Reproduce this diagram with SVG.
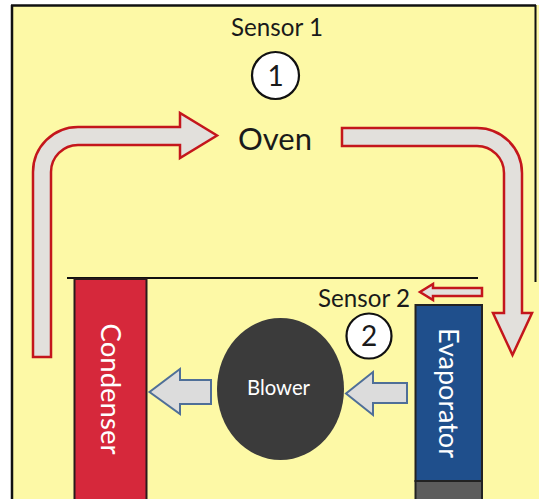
<svg xmlns="http://www.w3.org/2000/svg" width="539" height="499" viewBox="0 0 539 499">
  <style>
    .lbl { font-family: Lato, "Liberation Sans", sans-serif; fill: #1a1a1a; }
    .wlbl { font-family: Lato, "Liberation Sans", sans-serif; fill: #ffffff; }
    .flow { fill: #e2e0dc; stroke: #c4161c; stroke-width: 2.5; stroke-linejoin: miter; }
    .air { fill: #dcdcdc; stroke: #4f6f98; stroke-width: 2; stroke-linejoin: miter; }
    .sensor { fill: #ffffff; stroke: #111111; stroke-width: 2.2; }
  </style>
  <rect x="0" y="0" width="539" height="499" fill="#ffffff"/>
  <g id="oven">
    <rect x="12" y="5" width="527" height="494" fill="#fdf9a6"/>
    <line x1="12" y1="5" x2="12" y2="499" stroke="#111" stroke-width="2.5"/>
    <line x1="11" y1="5.5" x2="536" y2="5.5" stroke="#111" stroke-width="2.5"/>
    <line x1="535.5" y1="5" x2="535.5" y2="282" stroke="#111" stroke-width="2"/>
    <line x1="67" y1="278" x2="478" y2="278" stroke="#111" stroke-width="2"/>
    <text class="lbl" x="275" y="150" font-size="31" text-anchor="middle">Oven</text>
  </g>
  <g id="sensor1">
    <text class="lbl" x="277" y="36" font-size="25" text-anchor="middle" textLength="92" lengthAdjust="spacingAndGlyphs">Sensor 1</text>
    <circle class="sensor" cx="275.5" cy="75.5" r="23.5"/>
    <text class="lbl" x="275.5" y="85.5" font-size="28" text-anchor="middle">1</text>
  </g>
  <g id="condenser">
    <rect x="74.5" y="279" width="72" height="222" fill="#d6283b" stroke="#2a1a1a" stroke-width="2"/>
    <text class="wlbl" transform="translate(111,389) rotate(90)" font-size="27" text-anchor="middle" dominant-baseline="central" textLength="131" lengthAdjust="spacingAndGlyphs">Condenser</text>
  </g>
  <g id="evaporator">
    <rect x="415.5" y="305" width="66.5" height="176" fill="#1f4f8c" stroke="#222" stroke-width="2"/>
    <rect x="415.5" y="481" width="66.5" height="20" fill="#5c5c5c" stroke="#222" stroke-width="2"/>
    <text class="wlbl" transform="translate(449.5,393) rotate(90)" font-size="27" text-anchor="middle" dominant-baseline="central" textLength="130" lengthAdjust="spacingAndGlyphs">Evaporator</text>
  </g>
  <g id="blower">
    <ellipse cx="280.5" cy="389" rx="63.5" ry="71" fill="#3b3b3b"/>
    <text class="wlbl" x="278.5" y="395" font-size="22" text-anchor="middle" fill="#f0f0f0" textLength="63" lengthAdjust="spacingAndGlyphs">Blower</text>
  </g>
  <g id="sensor2">
    <text class="lbl" x="364" y="307" font-size="25" text-anchor="middle" textLength="92" lengthAdjust="spacingAndGlyphs">Sensor 2</text>
    <circle class="sensor" cx="369" cy="336" r="22.5"/>
    <text class="lbl" x="369" y="346" font-size="28" text-anchor="middle">2</text>
  </g>
  <g id="connectors">
    <path class="flow" d="M 33 357 L 33 172 A 45 45 0 0 1 78 127 L 180 127 L 180 113 L 217 135.5 L 180 158 L 180 145 L 78 145 A 27 27 0 0 0 51 172 L 51 357 Z"/>
    <path class="flow" d="M 342 128 L 477 128 A 45 45 0 0 1 522 173 L 522 313 L 532 313 L 512.5 355 L 493 313 L 504 313 L 504 173 A 27 27 0 0 0 477 146 L 342 146 Z"/>
    <path class="flow" stroke-width="2" d="M 482 288 L 433 288 L 433 284 L 420 292 L 433 300 L 433 296 L 482 296 Z"/>
    <path class="air" d="M 211 380 L 180 380 L 180 369 L 149.5 392 L 180 414 L 180 404 L 211 404 Z"/>
    <path class="air" d="M 407 383 L 373 383 L 373 372 L 346 393.5 L 373 415 L 373 403 L 407 403 Z"/>
  </g>
</svg>
